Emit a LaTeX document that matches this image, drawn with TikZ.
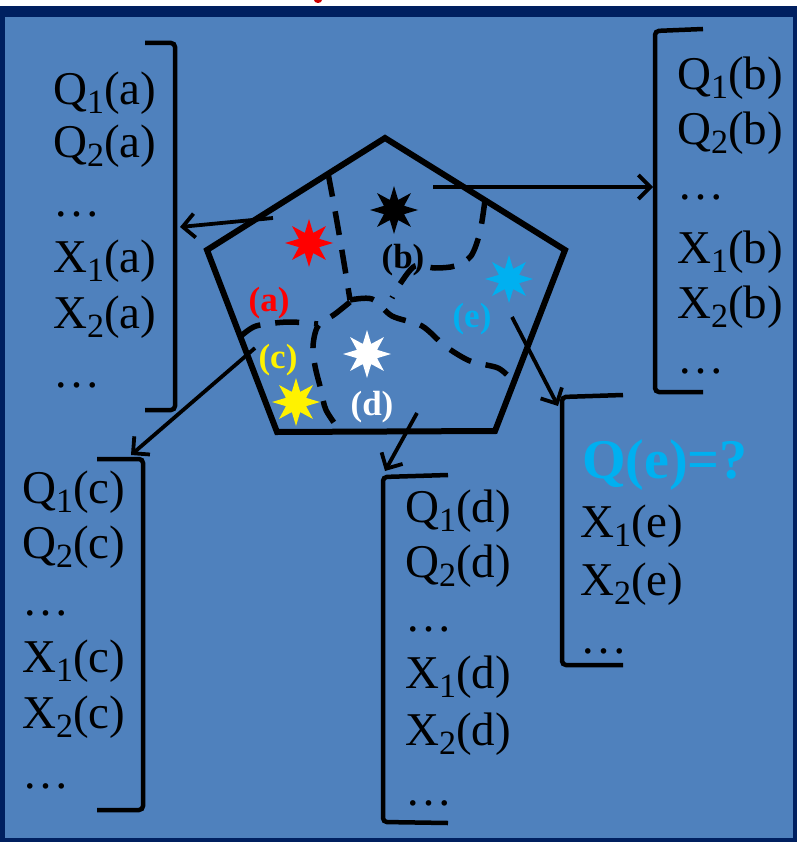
\documentclass[tikz,border=0pt]{standalone}
\usepackage{fontspec}
\setmainfont{Liberation Serif}
\usetikzlibrary{shapes.geometric,arrows.meta}
\definecolor{bgblue}{RGB}{79,129,189}
\definecolor{navyb}{RGB}{0,32,96}
\definecolor{cyanE}{RGB}{0,176,240}
\newcommand\sbx[1]{\raisebox{-9pt}{\fontsize{34}{34}\selectfont #1}}
\begin{document}
\begin{tikzpicture}[x=1pt,y=-1pt,
  lst/.style={anchor=base west, inner sep=0pt, font=\fontsize{47}{47}\selectfont},
  lbl/.style={font=\bfseries\fontsize{35}{35}\selectfont, inner sep=0pt},
  st/.style={star, star points=8, star point ratio=2.2, minimum size=48pt, inner sep=0pt},
  brk/.style={line width=4.5pt, rounded corners=4pt},
  arr/.style={line width=3.8pt, -{Straight Barb[length=12pt,width=24pt]}},
  dsh/.style={line width=5.5pt, dash pattern=on 24pt off 15pt},
  pent/.style={line width=6pt}]
\useasboundingbox (0,0) rectangle (797,842);
% frame
\fill[white] (0,0) rectangle (797,842);
\fill[navyb] (0,6) rectangle (797,842);
\fill[bgblue] (5,17) rectangle (793,838);
\fill[red!80!black] (318,0) ellipse (4 and 3);
% pentagon
\draw[pent] (385,138) -- (565,250) -- (495,431) -- (277,432) -- (207,250) -- cycle;
% dashed partitions
\draw[dsh] plot[smooth] coordinates {(328,173) (334,205) (341,245) (346,275) (350,300)};
\draw[dsh] plot[smooth] coordinates {(350,300) (372,299) (392,316) (422,326) (445,346) (470,361) (498,368) (512,380)};
\draw[dsh] plot[smooth] coordinates {(485,200) (480,232) (471,256) (455,266) (435,268) (415,266) (400,284) (392,298)};
\draw[dsh] plot[smooth] coordinates {(350,302) (335,314) (318,326) (313,346) (315,366) (321,390) (326,410) (340,431)};
\draw[dsh] plot[smooth] coordinates {(240,337) (256,326) (288,322) (318,324)};
% stars
\node[st, fill=red] (sa) at (309,243) {};
\node[st, fill=black] (sb) at (394,210) {};
\node[st, fill=cyanE] (se) at (509,279) {};
\node[st, fill=white] (sd) at (367,354) {};
\node[st, fill=yellow] (sc) at (296,402) {};
% labels
\node[lbl, text=red] (la) at (269,303) {(a)};
\node[lbl, text=black] (lb) at (403,260) {(b)};
\node[lbl, text=yellow] (lc) at (278,360) {(c)};
\node[lbl, text=white] (ld) at (372,407) {(d)};
\node[lbl, text=cyanE] (le) at (472,319) {(e)};
% brackets
\draw[brk] (145,43) -- (175,43) -- (175,410) -- (145,410);
\draw[brk] (703,29) -- (655,31) -- (655,392) -- (703,392);
\draw[brk] (97,459) -- (143,459) -- (143,810) -- (97,810);
\draw[brk] (448,475) -- (383,477) -- (383,822) -- (448,823);
\draw[brk] (623,395) -- (562,397) -- (562,665) -- (623,665);
% arrows
\coordinate (aS) at (273,218); \coordinate (aT) at (180,227);
\coordinate (bS) at (433,187); \coordinate (bT) at (653,187);
\coordinate (cS) at (255,348); \coordinate (cT) at (131,455);
\coordinate (dS) at (417,413); \coordinate (dT) at (385,471);
\coordinate (eS) at (512,317); \coordinate (eT) at (558,406);
\draw[arr] (aS) -- (aT);
\draw[arr] (bS) -- (bT);
\draw[arr] (cS) -- (cT);
\draw[arr] (dS) -- (dT);
\draw[arr] (eS) -- (eT);
% lists
\foreach \t/\yy/\n in {Q\sbx{1}(a)/105/1, Q\sbx{2}(a)/158/2, …/216/3, X\sbx{1}(a)/272/4, X\sbx{2}(a)/328/5, …/387/6}
  \node[lst, name=ta\n] at (53,\yy) {\t};
\foreach \t/\yy/\n in {Q\sbx{1}(b)/90/1, Q\sbx{2}(b)/145/2, …/200/3, X\sbx{1}(b)/263/4, X\sbx{2}(b)/318/5, …/373/6}
  \node[lst, name=tb\n] at (677,\yy) {\t};
\foreach \t/\yy/\n in {Q\sbx{1}(c)/503/1, Q\sbx{2}(c)/558/2, …/615/3, X\sbx{1}(c)/672/4, X\sbx{2}(c)/728/5, …/788/6}
  \node[lst, name=tc\n] at (22,\yy) {\t};
\foreach \t/\yy/\n in {Q\sbx{1}(d)/522/1, Q\sbx{2}(d)/577/2, …/631/3, X\sbx{1}(d)/688/4, X\sbx{2}(d)/745/5, …/805/6}
  \node[lst, name=td\n] at (405,\yy) {\t};
\node[lst, font=\bfseries\fontsize{56}{56}\selectfont, text=cyanE] (te1) at (582,478) {Q(e)=?};
\foreach \t/\yy/\n in {X\sbx{1}(e)/537/2, X\sbx{2}(e)/595/3, …/653/4}
  \node[lst, name=te\n] at (580,\yy) {\t};
\end{tikzpicture}
\end{document}
